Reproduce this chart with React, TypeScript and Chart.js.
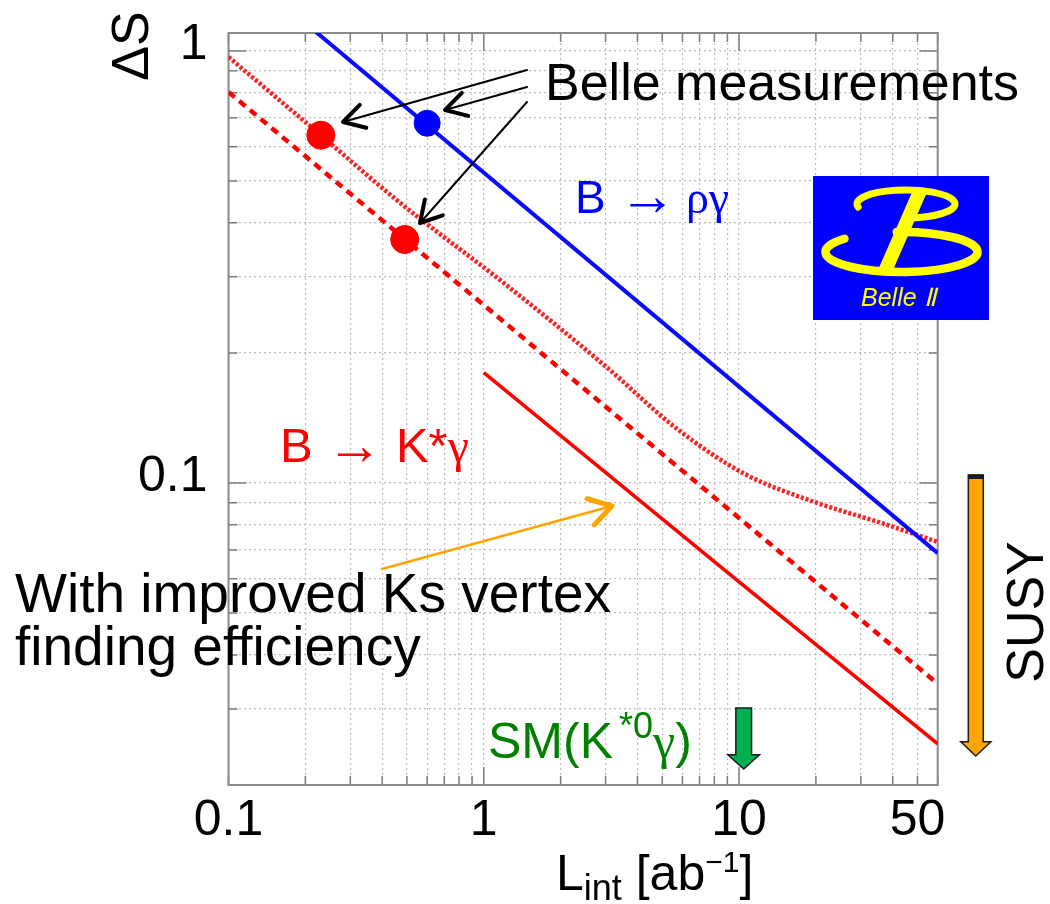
import React, { useEffect, useRef } from 'react';
import { Chart, registerables } from 'chart.js';

Chart.register(...registerables);

// ---- axis ranges / ticks ----
const X_MIN = 0.1;
const X_MAX = 60;
const Y_MIN = 0.02;
const Y_MAX = 1.1;
const xGridValues = [0.1, 0.2, 0.3, 0.4, 0.5, 0.6, 0.7, 0.8, 0.9, 1, 2, 3, 4, 5, 6, 7, 8, 9, 10, 20, 30, 40, 50, 60];
const xLabelValues = [0.1, 1, 10, 50];
const xMajorValues = [1, 10];
const yGridValues = [0.02, 0.03, 0.04, 0.05, 0.06, 0.07, 0.08, 0.09, 0.1, 0.2, 0.3, 0.4, 0.5, 0.6, 0.7, 0.8, 0.9, 1];
const yLabelValues = [0.1, 1];
const yMajorValues = [0.1, 1];

// ---- series ----
// B -> rho gamma (solid blue)
const rhoGammaL = [0.2, 60];
const rhoGammaS = [1.16, 0.0688];
// B -> K* gamma, fine dotted
const kstarDottedL = [0.1, 0.23, 0.47, 1.2, 3.04, 5.66, 10.5, 19.6, 36.6, 60];
const kstarDottedS = [0.968, 0.638, 0.445, 0.29, 0.185, 0.134, 0.105, 0.0905, 0.0806, 0.073];
// B -> K* gamma, dashed
const kstarDashedL = [0.1, 60];
const kstarDashedS = [0.803, 0.0343];
// B -> K* gamma with improved Ks vertex finding (solid red)
const kstarImprovedL = [1, 8.2, 60];
const kstarImprovedS = [0.18, 0.065, 0.0249];
// Belle measurements
const belleRhoL = [0.6];
const belleRhoS = [0.68];
const belleKstarL = [0.23, 0.49];
const belleKstarS = [0.638, 0.366];

const SANS = '"Liberation Sans", Arial, Helvetica, sans-serif';
const SERIF = '"Liberation Serif", "Times New Roman", serif';

const pts = (xs: number[], ys: number[]) => xs.map((x, i) => ({ x, y: ys[i] }));

function drawRich(ctx: CanvasRenderingContext2D, x: number, y: number, segs: any[]) {
  let cx = x;
  for (const s of segs) {
    ctx.font = s.font;
    ctx.fillStyle = s.color;
    cx += s.dx || 0;
    ctx.fillText(s.t, cx, y + (s.dy || 0));
    cx += ctx.measureText(s.t).width;
  }
}

function drawArrow(ctx: CanvasRenderingContext2D, x1: number, y1: number, x2: number, y2: number, color: string, lw: number, headLen: number, headLw: number, ang: number) {
  ctx.save();
  ctx.strokeStyle = color;
  ctx.lineCap = 'round';
  ctx.lineJoin = 'round';
  ctx.lineWidth = lw;
  ctx.beginPath();
  ctx.moveTo(x1, y1);
  ctx.lineTo(x2, y2);
  ctx.stroke();
  const a = Math.atan2(y1 - y2, x1 - x2);
  ctx.lineWidth = headLw;
  ctx.beginPath();
  ctx.moveTo(x2 + headLen * Math.cos(a + ang), y2 + headLen * Math.sin(a + ang));
  ctx.lineTo(x2, y2);
  ctx.lineTo(x2 + headLen * Math.cos(a - ang), y2 + headLen * Math.sin(a - ang));
  ctx.stroke();
  ctx.restore();
}

function drawBlockArrow(ctx: CanvasRenderingContext2D, cx: number, top: number, tip: number, shaftW: number, headW: number, headH: number, fill: string) {
  ctx.save();
  ctx.beginPath();
  ctx.moveTo(cx - shaftW / 2, top);
  ctx.lineTo(cx + shaftW / 2, top);
  ctx.lineTo(cx + shaftW / 2, tip - headH);
  ctx.lineTo(cx + headW / 2, tip - headH);
  ctx.lineTo(cx, tip);
  ctx.lineTo(cx - headW / 2, tip - headH);
  ctx.lineTo(cx - shaftW / 2, tip - headH);
  ctx.closePath();
  ctx.fillStyle = fill;
  ctx.fill();
  ctx.strokeStyle = '#1a1a1a';
  ctx.lineWidth = 1.5;
  ctx.stroke();
  ctx.restore();
}

const framePlugin = {
  id: 'frameTicks',
  beforeDatasetsDraw(chart: any) {
    const { ctx, chartArea: a, scales } = chart;
    ctx.save();
    ctx.strokeStyle = '#7d7d7d';
    ctx.lineWidth = 1.5;
    ctx.beginPath();
    for (const v of xGridValues) {
      const px = scales.x.getPixelForValue(v);
      const len = xMajorValues.includes(v) ? 18 : 9;
      ctx.moveTo(px, a.bottom);
      ctx.lineTo(px, a.bottom - len);
      ctx.moveTo(px, a.top);
      ctx.lineTo(px, a.top + len);
    }
    for (const v of yGridValues) {
      const py = scales.y.getPixelForValue(v);
      const len = yMajorValues.includes(v) ? 18 : 9;
      ctx.moveTo(a.left, py);
      ctx.lineTo(a.left + len, py);
      ctx.moveTo(a.right, py);
      ctx.lineTo(a.right - len, py);
    }
    ctx.stroke();
    ctx.strokeStyle = '#8a8a8a';
    ctx.lineWidth = 2;
    ctx.strokeRect(a.left, a.top, a.right - a.left, a.bottom - a.top);
    ctx.restore();
  },
};

const annotationPlugin = {
  id: 'annotations',
  afterDraw(chart: any) {
    const ctx: CanvasRenderingContext2D = chart.ctx;
    ctx.save();
    ctx.textAlign = 'left';
    ctx.textBaseline = 'alphabetic';

    // Belle II logo
    ctx.fillStyle = '#0000ff';
    ctx.fillRect(813, 176, 176, 144);
    ctx.strokeStyle = '#ffff00';
    ctx.fillStyle = '#ffff00';
    ctx.lineCap = 'round';
    ctx.lineWidth = 7;
    ctx.beginPath();
    ctx.ellipse(906, 204, 49, 14, 0, Math.PI * 0.93, Math.PI * 2.5, false);
    ctx.stroke();
    ctx.lineWidth = 8.5;
    ctx.beginPath();
    ctx.ellipse(901.5, 252, 76, 20, 0, Math.PI * 1.23, Math.PI * 1.48, true);
    ctx.stroke();
    ctx.beginPath();
    ctx.moveTo(913, 190);
    ctx.lineTo(928, 190);
    ctx.lineTo(893, 270);
    ctx.lineTo(878, 270);
    ctx.closePath();
    ctx.fill();
    ctx.font = `italic 25px ${SANS}`;
    ctx.fillText('Belle Ⅱ', 861, 306);

    // Belle measurements
    ctx.fillStyle = '#000';
    ctx.font = `52px ${SANS}`;
    ctx.fillText('Belle measurements', 545, 100);
    drawArrow(ctx, 527, 70, 343, 122, '#000', 2, 24, 4, 0.52);
    drawArrow(ctx, 527, 87, 445, 110, '#000', 2, 24, 4, 0.52);
    drawArrow(ctx, 527, 102, 420, 223, '#000', 2, 24, 4, 0.52);

    // B -> rho gamma
    drawRich(ctx, 575, 213, [
      { t: 'B ', font: `46px ${SANS}`, color: '#0000ff' },
      { t: '→', font: `58px ${SANS}`, color: '#0000ff', dy: 2 },
      { t: ' ', font: `34px ${SANS}`, color: '#0000ff' },
      { t: 'ργ', font: `46px ${SERIF}`, color: '#0000ff' },
    ]);

    // B -> K* gamma
    drawRich(ctx, 280, 462, [
      { t: 'B ', font: `49px ${SANS}`, color: '#ff0000' },
      { t: '→', font: `56px ${SANS}`, color: '#ff0000', dy: 2 },
      { t: ' K*', font: `49px ${SANS}`, color: '#ff0000' },
      { t: 'γ', font: `48px ${SERIF}`, color: '#ff0000' },
    ]);

    // improved Ks vertex
    drawArrow(ctx, 382, 569, 612, 506, '#ffa500', 2.5, 26, 5, 0.55);
    ctx.fillStyle = '#000';
    ctx.font = `55px ${SANS}`;
    ctx.fillText('With improved Ks vertex', 15, 612);
    ctx.fillText('finding efficiency', 15, 665);

    // SM(K*0 gamma)
    drawRich(ctx, 488, 758, [
      { t: 'SM(K', font: `50px ${SANS}`, color: '#008000' },
      { t: '*0', font: `36px ${SANS}`, color: '#008000', dy: -20, dx: 6 },
      { t: 'γ', font: `50px ${SERIF}`, color: '#008000' },
      { t: ')', font: `50px ${SANS}`, color: '#008000' },
    ]);
    drawBlockArrow(ctx, 743.7, 708, 769, 15.7, 31.6, 14.3, '#00b050');

    // SUSY arrow
    drawBlockArrow(ctx, 975.8, 475, 756, 15, 30, 14.3, '#ffa500');
    ctx.fillStyle = '#1a1a1a';
    ctx.fillRect(968.3, 474.5, 15, 4.5);

    ctx.fillStyle = '#000';
    ctx.font = `52px ${SANS}`;
    ctx.textAlign = 'center';
    ctx.save();
    ctx.translate(1043, 612);
    ctx.rotate(-Math.PI / 2);
    ctx.fillText('SUSY', 0, 0);
    ctx.restore();

    // axis titles
    ctx.save();
    ctx.translate(148, 46);
    ctx.rotate(-Math.PI / 2);
    ctx.font = `52px ${SANS}`;
    ctx.fillText('ΔS', 0, 0);
    ctx.restore();

    ctx.textAlign = 'left';
    drawRich(ctx, 556, 890, [
      { t: 'L', font: `50px ${SANS}`, color: '#000' },
      { t: 'int', font: `36px ${SANS}`, color: '#000', dy: 10 },
      { t: ' [ab', font: `50px ${SANS}`, color: '#000' },
      { t: '−1', font: `30px ${SANS}`, color: '#000', dy: -18 },
      { t: ']', font: `50px ${SANS}`, color: '#000' },
    ]);

    ctx.restore();
  },
};

export default function App() {
  const ref = useRef<HTMLCanvasElement>(null);
  useEffect(() => {
    const canvas = ref.current as HTMLCanvasElement;
    const tickFont = { family: SANS, size: 50 };
    const chart = new Chart(canvas, {
      type: 'scatter',
      data: {
        datasets: [
          {
            label: 'Belle B→K*γ',
            data: pts(belleKstarL, belleKstarS),
            backgroundColor: '#ff0000',
            borderColor: '#ff0000',
            pointRadius: 14,
            showLine: false,
          },
          {
            label: 'Belle B→ργ',
            data: pts(belleRhoL, belleRhoS),
            backgroundColor: '#0000ff',
            borderColor: '#0000ff',
            pointRadius: 13,
            showLine: false,
          },
          {
            label: 'B→ργ',
            data: pts(rhoGammaL, rhoGammaS),
            showLine: true,
            borderColor: '#0a0aff',
            borderWidth: 4,
            pointRadius: 0,
          },
          {
            label: 'B→K*γ improved',
            data: pts(kstarImprovedL, kstarImprovedS),
            showLine: true,
            borderColor: '#ff0000',
            borderWidth: 3.5,
            pointRadius: 0,
          },
          {
            label: 'B→K*γ dashed',
            data: pts(kstarDashedL, kstarDashedS),
            showLine: true,
            borderColor: '#ff0000',
            borderWidth: 4.5,
            borderDash: [8, 6],
            pointRadius: 0,
          },
          {
            label: 'B→K*γ dotted',
            data: pts(kstarDottedL, kstarDottedS),
            showLine: true,
            borderColor: '#ff2020',
            borderWidth: 4.5,
            borderDash: [3, 2],
            cubicInterpolationMode: 'monotone',
            pointRadius: 0,
          },
        ],
      },
      options: {
        animation: false,
        responsive: false,
        maintainAspectRatio: false,
        devicePixelRatio: 1,
        layout: { padding: { left: 0, top: 33, right: 112.3, bottom: 0 } },
        plugins: { legend: { display: false }, tooltip: { enabled: false } },
        scales: {
          x: {
            type: 'logarithmic',
            min: X_MIN,
            max: X_MAX,
            afterBuildTicks: (scale: any) => {
              scale.ticks = xGridValues.map((v) => ({ value: v }));
            },
            afterFit: (scale: any) => {
              scale.height = 119;
              scale.paddingLeft = 0;
              scale.paddingRight = 0;
            },
            ticks: {
              autoSkip: false,
              maxRotation: 0,
              minRotation: 0,
              padding: 6,
              color: '#000',
              font: tickFont,
              callback: (v: any) => (xLabelValues.includes(Number(v)) ? String(v) : ''),
            },
            grid: { color: '#bdbdbd', lineWidth: 1.2, drawTicks: false },
            border: { display: false, dash: [2, 3] },
          },
          y: {
            type: 'logarithmic',
            min: Y_MIN,
            max: Y_MAX,
            afterBuildTicks: (scale: any) => {
              scale.ticks = yGridValues.map((v) => ({ value: v }));
            },
            afterFit: (scale: any) => {
              scale.width = 228.5;
              scale.paddingTop = 0;
              scale.paddingBottom = 0;
            },
            ticks: {
              autoSkip: false,
              padding: 21,
              labelOffset: -6,
              color: '#000',
              font: tickFont,
              callback: (v: any) => (yLabelValues.includes(Number(v)) ? String(v) : ''),
            },
            grid: { color: '#bdbdbd', lineWidth: 1.2, drawTicks: false },
            border: { display: false, dash: [2, 3] },
          },
        },
      },
      plugins: [framePlugin, annotationPlugin],
    } as any);
    return () => chart.destroy();
  }, []);

  return (
    <div style={{ position: 'fixed', left: 0, top: 0, width: 1050, height: 904, background: '#fff' }}>
      <canvas ref={ref} width={1050} height={904} style={{ width: 1050, height: 904, display: 'block' }} />
    </div>
  );
}
